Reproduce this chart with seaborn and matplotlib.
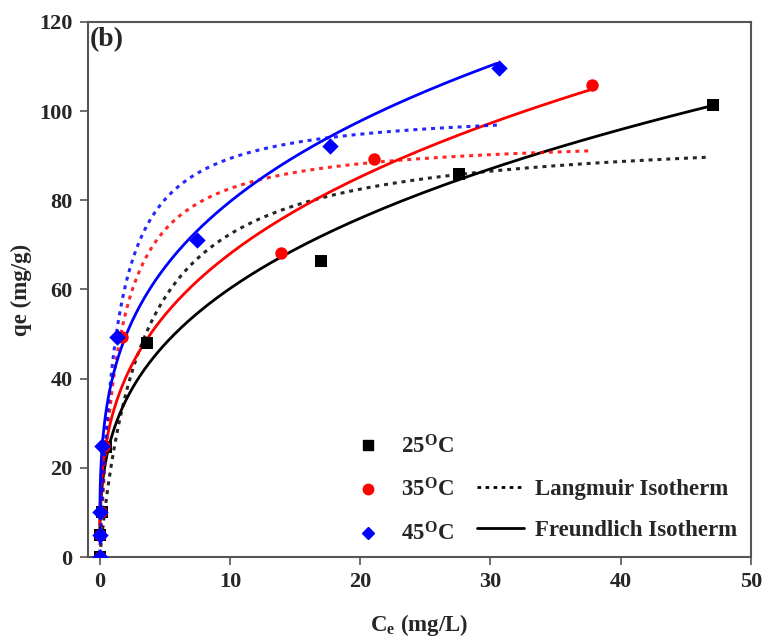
import numpy as np
import pandas as pd
import matplotlib
matplotlib.use("Agg")
import matplotlib.pyplot as plt
from matplotlib.lines import Line2D
import seaborn as sns

# ---- data ----
temps = ["25", "35", "45"]
colors = ["#000000", "#ff0000", "#0000ff"]
markers = ["s", "o", "D"]

ce_25 = [0, 0.02, 0.2, 0.5, 3.6, 17.0, 27.6, 47.1]
qe_25 = [0, 5, 10, 24.7, 48.1, 66.4, 85.9, 101.4]
ce_35 = [0, 0.02, 0.1, 0.3, 1.7, 13.9, 21.1, 37.8]
qe_35 = [0, 5, 10, 25.0, 49.3, 68.2, 89.3, 105.9]
ce_45 = [0, 0.02, 0.05, 0.2, 1.3, 7.44, 17.65, 30.7]
qe_45 = [0, 5, 10, 24.9, 49.3, 71.1, 92.2, 109.7]

# Langmuir parameters (qm, KL) and Freundlich parameters (KF, 1/n) per temperature
langmuir_qm = [95.9, 94.6, 101.0]
langmuir_kl = [0.308, 0.69, 0.769]
freundlich_kf = [27.8, 32.1, 40.4]
freundlich_inv_n = [0.3356, 0.326, 0.295]
curve_end = [46.8, 37.6, 30.5]

ce_all = [ce_25, ce_35, ce_45]
qe_all = [qe_25, qe_35, qe_45]

# ---- style ----
sns.set_style("ticks")
plt.rcParams["font.family"] = ["Liberation Serif", "DejaVu Serif"]
plt.rcParams["font.weight"] = "bold"
plt.rcParams["mathtext.fontset"] = "custom"
plt.rcParams["mathtext.rm"] = "Liberation Serif:bold"
plt.rcParams["mathtext.bf"] = "Liberation Serif:bold"
plt.rcParams["mathtext.it"] = "Liberation Serif:bold"

fig = plt.figure(figsize=(7.63, 6.39), dpi=100)
ax = fig.add_axes([0.1153, 0.1283, 0.8687, 0.8373])

spine_col = "#555555"
for s in ax.spines.values():
    s.set_color(spine_col)
    s.set_linewidth(1.5)

dotted = (0, (1.3, 1.6))
for i in range(3):
    xs = np.geomspace(0.01, curve_end[i], 400)
    lang = langmuir_qm[i] * langmuir_kl[i] * xs / (1 + langmuir_kl[i] * xs)
    freu = freundlich_kf[i] * xs ** freundlich_inv_n[i]
    sns.lineplot(x=xs, y=lang, color=colors[i], linestyle=dotted, lw=2.2,
                 ax=ax, sort=False, estimator=None, alpha=0.85)
    sns.lineplot(x=xs, y=freu, color=colors[i], lw=2.0, ax=ax,
                 sort=False, estimator=None)

for i in range(3):
    sns.scatterplot(x=ce_all[i], y=qe_all[i], color=colors[i], marker=markers[i],
                    s=80 if markers[i] != "D" else 70, edgecolor=colors[i],
                    linewidth=0, ax=ax, zorder=5)

ax.set_xlim(-0.9, 50)
ax.set_ylim(0, 120)
ax.set_xticks([0, 10, 20, 30, 40, 50])
ax.set_yticks([0, 20, 40, 60, 80, 100, 120])
ax.tick_params(axis="both", direction="out", length=6, width=1.2, color=spine_col,
               labelsize=16, pad=5)
for lab in ax.get_xticklabels() + ax.get_yticklabels():
    lab.set_fontweight("bold")

ax.set_xlabel(r"C$_{\rm e}$ (mg/L)", fontsize=16.5, fontweight="bold", labelpad=14)
ax.set_ylabel("qe (mg/g)", fontsize=16.5, fontweight="bold", labelpad=5)

ax.text(0.003, 0.99, "(b)", transform=ax.transAxes, fontsize=20,
        fontweight="bold", va="top", ha="left")

handles = [
    Line2D([], [], color=colors[0], marker="s", linestyle="none", markersize=6.5),
    Line2D([], [], color=colors[1], marker="o", linestyle="none", markersize=7.5),
    Line2D([], [], color=colors[2], marker="D", linestyle="none", markersize=6.5),
    Line2D([], [], alpha=0),
    Line2D([], [], color="black", linestyle=dotted, lw=2),
    Line2D([], [], color="black", lw=2),
]
labels = [r"25$^{\rm O}$C", r"35$^{\rm O}$C", r"45$^{\rm O}$C", "",
          "Langmuir Isotherm", "Freundlich Isotherm"]
leg = ax.legend(handles, labels, ncol=2, loc="lower right", frameon=False,
                bbox_to_anchor=(0.9925, 0.004), borderaxespad=0,
                handlelength=2.05, handletextpad=0.45,
                columnspacing=1.0, labelspacing=0.9,
                prop={"family": "Liberation Serif", "weight": "bold", "size": 16.5})

fig.savefig("out.png", dpi=100)
